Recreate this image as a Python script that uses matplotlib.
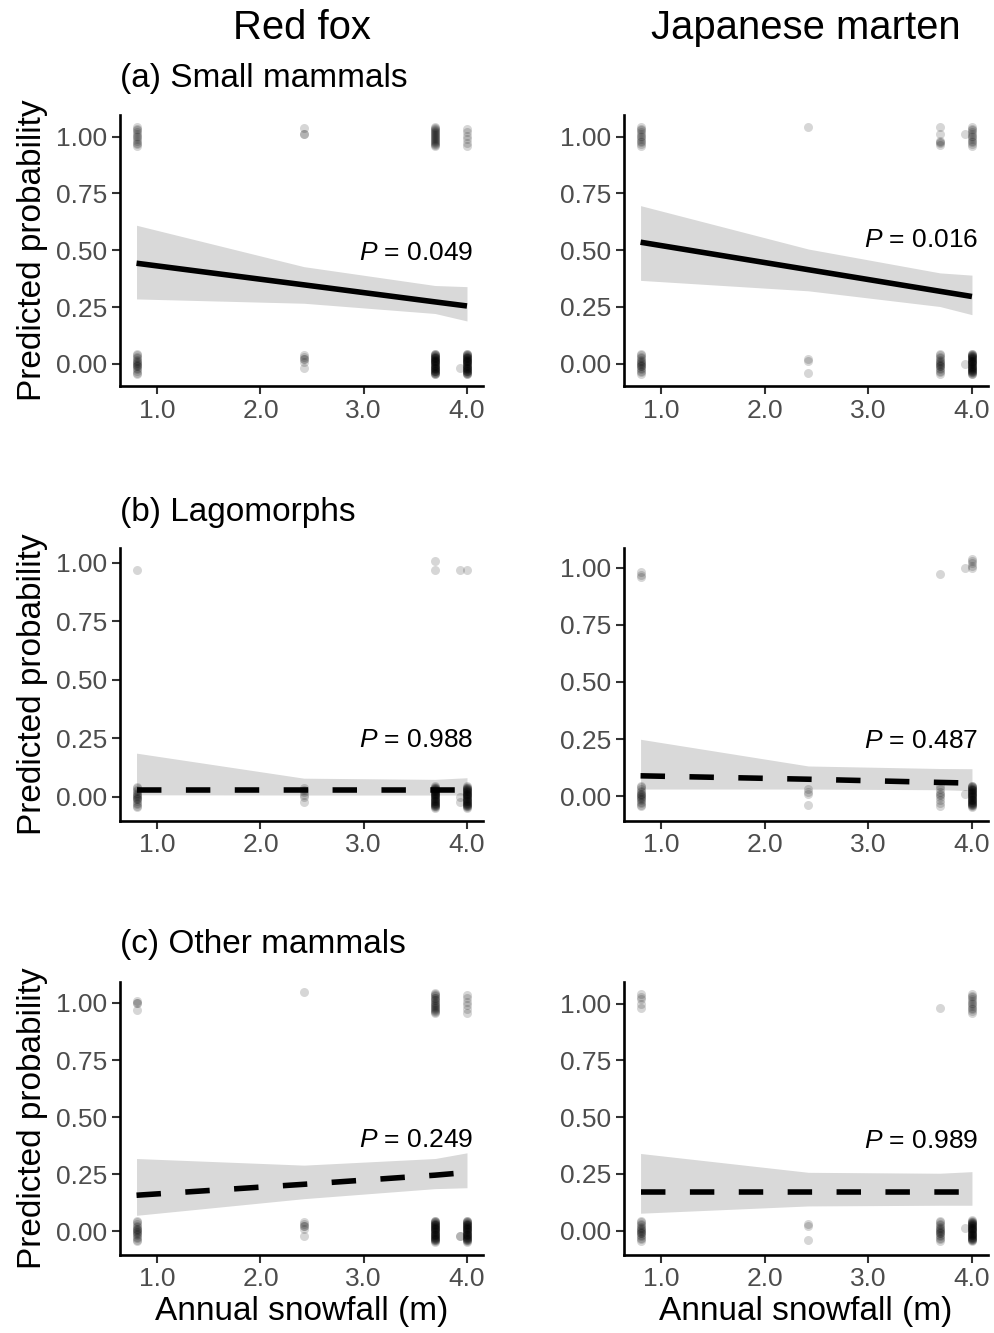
import matplotlib
matplotlib.use('Agg')
import matplotlib.pyplot as plt

plt.rcParams['font.family'] = ['Liberation Sans', 'DejaVu Sans']
plt.rcParams['mathtext.fontset'] = 'custom'
plt.rcParams['mathtext.it'] = 'Liberation Sans:italic'
plt.rcParams['mathtext.rm'] = 'Liberation Sans'

species = ['Red fox', 'Japanese marten']
prey_titles = ['(a) Small mammals', '(b) Lagomorphs', '(c) Other mammals']
x_label = 'Annual snowfall (m)'
y_label = 'Predicted probability'
x_ticks = [1.0, 2.0, 3.0, 4.0]
y_ticks = [0.0, 0.25, 0.5, 0.75, 1.0]

# snowfall values where fitted curves are evaluated
fit_x = [0.8, 2.42, 3.69, 4.0]

# fitted probability, lower and upper 95% CI  (rows: prey group, cols: species)
fox_small_fit = [0.443, 0.348, 0.273, 0.255]
fox_small_lo = [0.286, 0.267, 0.222, 0.189]
fox_small_hi = [0.61, 0.428, 0.345, 0.34]
marten_small_fit = [0.535, 0.414, 0.319, 0.296]
marten_small_lo = [0.367, 0.321, 0.252, 0.216]
marten_small_hi = [0.696, 0.505, 0.40, 0.39]

fox_lago_fit = [0.03, 0.03, 0.03, 0.03]
fox_lago_lo = [0.009, 0.008, 0.008, 0.008]
fox_lago_hi = [0.187, 0.08, 0.075, 0.082]
marten_lago_fit = [0.089, 0.074, 0.06, 0.057]
marten_lago_lo = [0.031, 0.031, 0.028, 0.024]
marten_lago_hi = [0.249, 0.132, 0.121, 0.12]

fox_other_fit = [0.157, 0.205, 0.245, 0.257]
fox_other_lo = [0.069, 0.142, 0.186, 0.19]
fox_other_hi = [0.318, 0.289, 0.318, 0.343]
marten_other_fit = [0.171, 0.171, 0.171, 0.171]
marten_other_lo = [0.077, 0.109, 0.112, 0.112]
marten_other_hi = [0.34, 0.257, 0.253, 0.26]

p_values = [['0.049', '0.016'], ['0.988', '0.487'], ['0.249', '0.989']]
p_label_y = [[0.49, 0.545], [0.244, 0.241], [0.40, 0.397]]

dense_zero = [-0.046, -0.043, -0.041, -0.038, -0.036, -0.033, -0.031, -0.029, -0.026, -0.024,
              -0.021, -0.019, -0.016, -0.013, -0.011, -0.008, -0.006, -0.003, -0.001, 0.002,
              0.004, 0.007, 0.009, 0.012, 0.014, 0.017, 0.019, 0.022, 0.025, 0.027,
              0.03, 0.032, 0.035, 0.038, 0.04, 0.043, 0.045, -0.018, 0.011, 0.028]
dense_one = [0.957, 0.961, 0.966, 0.97, 0.975, 0.979, 0.984, 0.988, 0.993, 0.997,
             1.002, 1.006, 1.011, 1.015, 1.02, 1.024, 1.029, 1.033, 1.038, 1.042]
mid_zero = [-0.044, -0.038, -0.031, -0.024, -0.018, -0.011, -0.005, 0.0, 0.004,
            0.011, 0.017, 0.024, 0.031, 0.038, 0.044, -0.008, 0.008]
mid_one = [0.958, 0.966, 0.974, 0.981, 0.989, 0.997, 1.004, 1.012, 1.02, 1.027, 1.035, 1.042]

fox_small_obs = {
    0.8: mid_one + mid_zero,
    2.42: [1.04, 1.01, 1.01, 0.04, 0.03, 0.02, 0.02, 0.01, -0.02],
    3.69: dense_one + dense_zero,
    3.93: [-0.02],
    4.0: mid_one[::2] + dense_zero,
}
marten_small_obs = {
    0.8: mid_one + mid_zero,
    2.42: [1.04, 0.02, 0.01, -0.04],
    3.69: [1.04, 1.01, 0.97, 0.98, 0.975, 0.965] + mid_zero,
    3.93: [1.01, 0.00],
    4.0: mid_one + dense_zero,
}
fox_lago_obs = {
    0.8: [0.97] + mid_zero,
    2.42: [0.04, 0.03, 0.02, 0.0, -0.02, 0.01],
    3.69: [1.01, 0.97] + dense_zero,
    3.93: [0.97, -0.02, 0.0],
    4.0: [0.97] + dense_zero,
}
marten_lago_obs = {
    0.8: [0.96, 0.97, 0.98] + mid_zero,
    2.42: [0.03, 0.02, 0.01, -0.04],
    3.69: [0.975] + mid_zero[::2],
    3.93: [1.00, 0.01],
    4.0: [1.00, 1.01, 1.02, 1.03, 1.04] + dense_zero,
}
fox_other_obs = {
    0.8: [1.00, 1.00, 1.01, 0.97] + mid_zero,
    2.42: [1.05, 0.04, 0.03, 0.02, 0.02, 0.01, -0.02],
    3.69: dense_one + dense_zero,
    3.93: [-0.02, -0.02],
    4.0: mid_one[::2] + dense_zero,
}
marten_other_obs = {
    0.8: [1.04, 1.03, 1.02, 1.00, 0.98] + mid_zero,
    2.42: [0.03, 0.02, -0.04],
    3.69: [0.98] + mid_zero,
    3.93: [0.01],
    4.0: mid_one + dense_zero,
}

panels = [
    [(fox_small_fit, fox_small_lo, fox_small_hi, fox_small_obs),
     (marten_small_fit, marten_small_lo, marten_small_hi, marten_small_obs)],
    [(fox_lago_fit, fox_lago_lo, fox_lago_hi, fox_lago_obs),
     (marten_lago_fit, marten_lago_lo, marten_lago_hi, marten_lago_obs)],
    [(fox_other_fit, fox_other_lo, fox_other_hi, fox_other_obs),
     (marten_other_fit, marten_other_lo, marten_other_hi, marten_other_obs)],
]
solid_rows = [True, False, False]

# layout (figure pixels)
W, H = 994, 1333
col_left = [120, 624]
col_width = [363, 364]
row_top = [115, 548, 982]
row_height = [271, 273, 273]
ylims = [[(-0.097, 1.095), (-0.098, 1.095)],
         [(-0.103, 1.064), (-0.109, 1.087)],
         [(-0.105, 1.092), (-0.107, 1.095)]]

fig = plt.figure(figsize=(W / 100, H / 100), dpi=100)

tick_col = '#4d4d4d'
for r in range(3):
    for c in range(2):
        fit, lo, hi, obs = panels[r][c]
        ax = fig.add_axes([col_left[c] / W, 1 - (row_top[r] + row_height[r]) / H,
                           col_width[c] / W, row_height[r] / H])
        ax.fill_between(fit_x, lo, hi, color='#d9d9d9', lw=0, zorder=1)
        for sx, ys in obs.items():
            ax.scatter([sx] * len(ys), ys, s=42, color='black', alpha=0.16,
                       linewidths=0, zorder=2)
        if solid_rows[r]:
            ax.plot(fit_x, fit, color='black', lw=4.0, solid_capstyle='butt',
                    solid_joinstyle='round', zorder=3)
        else:
            ax.plot(fit_x, fit, color='black', lw=4.0, linestyle=(0, (4.4, 4.4)),
                    dash_capstyle='butt', zorder=3)
        ax.text(4.06, p_label_y[r][c], r'$\mathit{P}$ = ' + p_values[r][c],
                ha='right', va='center', fontsize=19, color='black', zorder=4)
        ax.set_xlim(0.64, 4.155)
        ax.set_ylim(*ylims[r][c])
        ax.set_xticks(x_ticks)
        ax.set_xticklabels([f'{v:.1f}' for v in x_ticks])
        ax.set_yticks(y_ticks)
        ax.set_yticklabels([f'{v:.2f}' for v in y_ticks])
        for s in ['top', 'right']:
            ax.spines[s].set_visible(False)
        for s in ['left', 'bottom']:
            ax.spines[s].set_linewidth(1.9)
            ax.spines[s].set_color('black')
        ax.tick_params(axis='both', length=5.5, width=1.5, color='#333333',
                       labelsize=19, labelcolor=tick_col, pad=3.5)
        if c == 0:
            ax.set_ylabel(y_label, fontsize=24, color='black', labelpad=6)
        if r == 2:
            ax.set_xlabel(x_label, fontsize=24, color='black', labelpad=3)

# column titles
fig.text((col_left[0] + col_width[0] / 2) / W, 1 - 28 / H, species[0],
         ha='center', va='center', fontsize=28.8)
fig.text((col_left[1] + col_width[1] / 2) / W, 1 - 28 / H, species[1],
         ha='center', va='center', fontsize=28.8)
# panel titles
title_y = [78, 512, 945]
for r in range(3):
    fig.text(col_left[0] / W, 1 - title_y[r] / H, prey_titles[r],
             ha='left', va='center', fontsize=24)

fig.savefig('out.png', dpi=100)
